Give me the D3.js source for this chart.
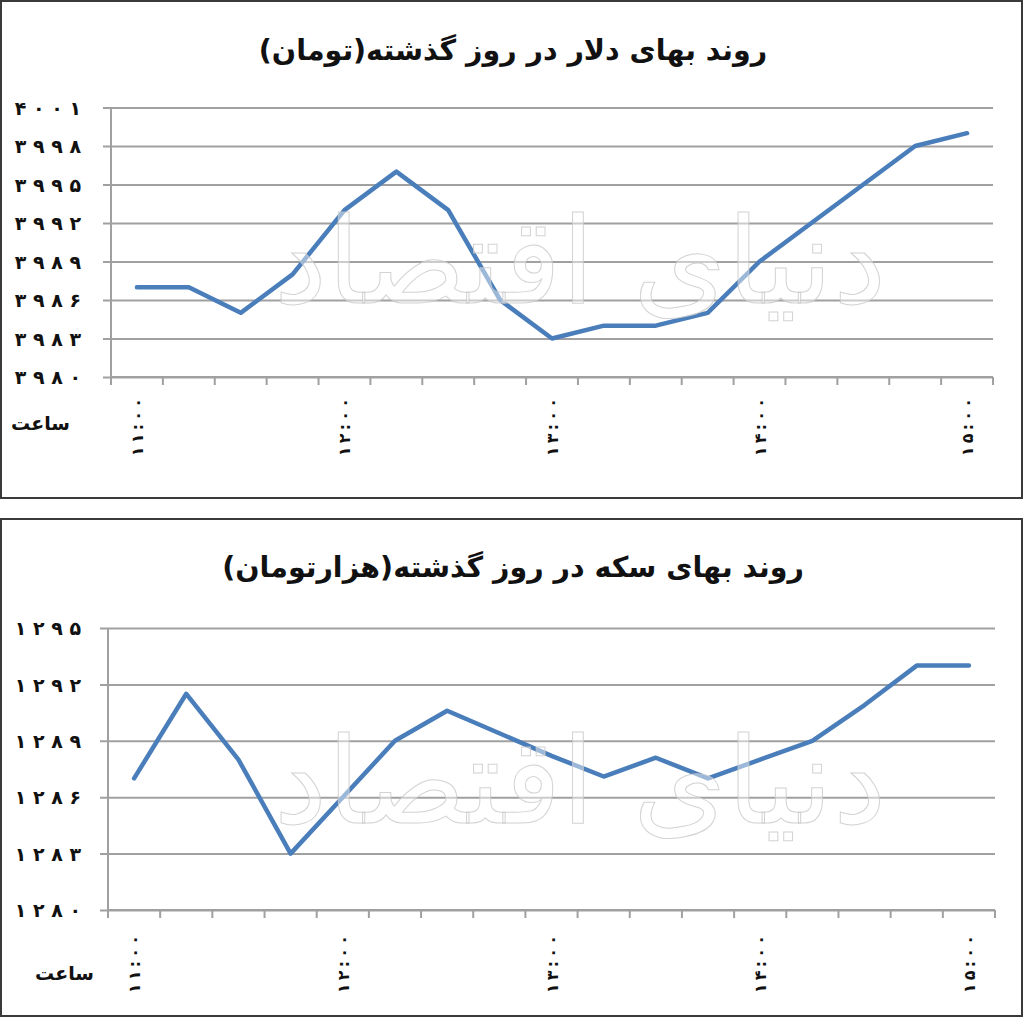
<!DOCTYPE html>
<html>
<head>
<meta charset="utf-8">
<script src="https://cdn.jsdelivr.net/npm/d3@7"></script>
<style>
  html, body { margin: 0; padding: 0; background: #fff; }
  svg { display: block; }
  text { font-family: "DejaVu Sans", sans-serif; }
</style>
</head>
<body>
<svg id="chart" width="1024" height="1018"></svg>
<script>
// ---- data ----
const times = ["11:00","11:15","11:30","11:45","12:00","12:15","12:30","12:45","13:00",
               "13:15","13:30","13:45","14:00","14:15","14:30","14:45","15:00"];
const dollarValues = [3987,3987,3985,3988,3993,3996,3993,3986,3983,3984,3984,3985,3989,3992,3995,3998,3999];
const coinValues = [1287,1291.5,1288,1283,1286,1289,1290.6,1289.4,1288.2,1287.1,1288.1,1287,1288,1289,1290.9,1293,1293];
const dollarTicks = [3980,3983,3986,3989,3992,3995,3998,4001];
const coinTicks = [1280,1283,1286,1289,1292,1295];
const dollarTitle = "روند بهای دلار در روز گذشته(تومان)";
const coinTitle = "روند بهای سکه در روز گذشته(هزارتومان)";
const hourWord = "ساعت";
const watermark = "دنیای اقتصاد";

const faDigits = "۰۱۲۳۴۵۶۷۸۹";
const faSpaced = (s, sep) => String(s).split("").map(c => /[0-9]/.test(c) ? faDigits[+c] : c).join(sep);

const svg = d3.select("#chart");

const panels = [
  { top: 1, title: dollarTitle, values: dollarValues, ticks: dollarTicks,
    x0: 111, x1: 993, yTop: 107.5, yBot: 377, titleY: 60, labTop: 398, hourX: 70, hourY: 430 },
  { top: 519, title: coinTitle, values: coinValues, ticks: coinTicks,
    x0: 108, x1: 995, yTop: 628, yBot: 910, titleY: 577, labTop: 935, hourX: 94, hourY: 980 }
];

panels.forEach(p => {
  const g = svg.append("g");
  g.append("rect").attr("x", 1).attr("y", p.top).attr("width", 1021).attr("height", 497)
    .attr("fill", "#fff").attr("stroke", "#3a3a3a").attr("stroke-width", 2);

  g.append("text").attr("x", 513).attr("y", p.titleY).attr("text-anchor", "middle")
    .attr("font-size", 28.5).attr("font-weight", "bold")
    .attr("fill", "#111").text(p.title);

  const x = d3.scaleBand().domain(times).range([p.x0, p.x1]);
  const y = d3.scaleLinear().domain([d3.min(p.ticks), d3.max(p.ticks)]).range([p.yBot, p.yTop]);

  // gridlines + y ticks
  const yAxis = d3.axisLeft(y).tickValues(p.ticks).tickSize(-(p.x1 - p.x0)).tickSizeOuter(0)
    .tickFormat(d => faSpaced(d, " "));
  const ya = g.append("g").attr("transform", `translate(${p.x0},0)`).call(yAxis);
  ya.select(".domain").remove();
  ya.selectAll(".tick line").attr("stroke", "#a0a0a0").attr("stroke-width", 2)
    .attr("x1", -8);
  ya.selectAll(".tick text").attr("x", p.x0 === 111 ? -30 : -27).attr("font-size", 19).attr("font-weight", "bold")
    .attr("fill", "#111").attr("dy", "0.35em");

  // x axis
  const xAxis = d3.axisBottom(x).tickSize(0).tickFormat(() => "");
  const xa = g.append("g").attr("transform", `translate(0,${p.yBot})`).call(xAxis);
  xa.select(".domain").attr("stroke", "#a0a0a0").attr("stroke-width", 2)
    .attr("d", `M${p.x0},0H${p.x1}`);
  const bounds = times.map(t => x(t)).concat([p.x1]);
  g.append("g").selectAll("line").data(bounds).join("line")
    .attr("x1", d => d).attr("x2", d => d).attr("y1", p.yBot).attr("y2", p.yBot + 8)
    .attr("stroke", "#a0a0a0").attr("stroke-width", 2);
  g.append("line").attr("x1", p.x0).attr("x2", p.x0).attr("y1", p.yTop).attr("y2", p.yBot + 8)
    .attr("stroke", "#a0a0a0").attr("stroke-width", 2);

  // rotated hour labels (every hour)
  g.append("g").selectAll("text").data(times.filter((t, i) => i % 4 === 0)).join("text")
    .attr("transform", d => `translate(${x(d) + x.bandwidth() / 2 + 6},${p.labTop}) rotate(-90)`)
    .attr("text-anchor", "end").attr("font-size", 16).attr("font-weight", "bold")
    .attr("fill", "#111").text(d => faSpaced(d, "\u2009"));

  g.append("text").attr("x", p.hourX).attr("y", p.hourY).attr("text-anchor", "end")
    .attr("font-size", 19).attr("font-weight", "bold")
    .attr("fill", "#111").text(hourWord);

  // series line
  const line = d3.line().x((d, i) => x(times[i]) + x.bandwidth() / 2).y(d => y(d));
  g.append("path").datum(p.values).attr("d", line).attr("fill", "none")
    .attr("stroke", "#4a7ebb").attr("stroke-width", 4.5)
    .attr("stroke-linejoin", "round").attr("stroke-linecap", "round");

  // watermark
  g.append("text").attr("x", 580).attr("y", p.yTop + 195).attr("text-anchor", "middle")
    .attr("font-size", 120)
    .attr("fill", "#fff").attr("fill-opacity", 0.45)
    .attr("stroke", "#c8c8c8").attr("stroke-width", 1).attr("stroke-opacity", 0.8)
    .text(watermark);
});
</script>
</body>
</html>
